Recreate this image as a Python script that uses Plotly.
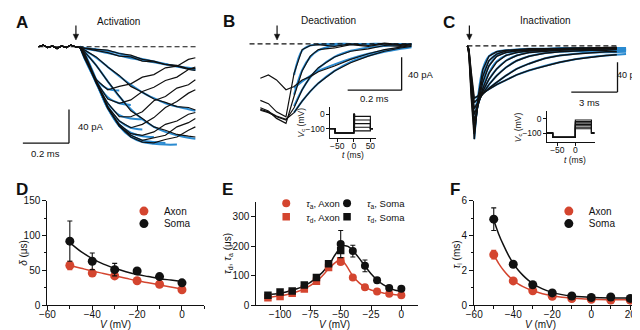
import plotly.graph_objects as go

W, H = 640, 330
FONT = "Liberation Sans, Arial, sans-serif"
BOLD = "Liberation Sans, Arial, sans-serif"
RED = "#d4452f"
BLUE = "#2a8ad0"
BLACK = "#111111"

# ---------------- A: activation (t in ms, I in pA) ----------------
A_T_BASE = [0, 0.02, 0.04, 0.06, 0.08, 0.10, 0.12, 0.14, 0.16, 0.18]
A_I_BASE = [0, 2, -1, 1, -2, 1, -1, 2, 0, -1]
A_T = [0.2, 0.25, 0.3, 0.35, 0.4, 0.45, 0.5, 0.55, 0.6, 0.65, 0.68]
A_S0 = [-1.5, -3, -4, -8, -10, -15, -17, -21, -23, -27, -28]
A_S1 = [-2, -5, -7, -11, -12, -17, -18, -21, -22, -26, -26]
A_S2 = [-4, -12, -24, -34, -47, -54, -62, -66, -71, -72, -75]
A_S3 = [-6, -22, -41, -59, -76, -85, -95, -99, -104, -106, -107]
A_F1 = [-14, -39, -51, -47, -44, -36, -33, -25, -23, -15, -13]
A_F2 = [-14, -41, -62, -67, -63, -53, -48, -40, -36, -27, -24]
A_F3 = [-12, -43, -67, -83, -83, -77, -64, -59, -49, -45, -39]
A_F4 = [-11, -43, -71, -88, -96, -92, -84, -72, -65, -55, -51]
A_F5 = [-10, -42, -73, -92, -103, -105, -101, -92, -88, -80, -78]
A_F6 = [-9, -41, -73, -94, -105, -111, -108, -105, -95, -90, -85]
A_F7 = [-8, -39, -71, -94, -107, -113, -114, -110, -107, -99, -95]
A_FIT_T = [0.18, 0.2, 0.25, 0.3, 0.35, 0.4, 0.45, 0.5, 0.55, 0.6, 0.65, 0.68]
A_FIT_S0 = [0, -1.5, -3, -5, -8, -11.5, -14.5, -17.5, -20.5, -23.5, -26, -27.5]
A_FIT_S1 = [0, -2, -4.5, -7.5, -10.5, -13.5, -16, -18.5, -21, -23, -25, -26]
A_FIT_S2 = [0, -4, -13, -24, -35, -45, -54, -61, -67, -71, -74, -76]
A_FIT_S3 = [0, -6, -22, -41, -59, -74, -86, -95, -101, -105, -108, -109]
A_FIT_F1 = [0, -14, -39, -50, -52]
A_FIT_F2 = [0, -14, -41, -60, -67, -69]
A_FIT_F3 = [0, -12, -43, -67, -81, -85, -86]
A_FIT_F4 = [0, -11, -43, -71, -88, -96, -98]
A_FIT_F5 = [0, -10, -42, -73, -92, -102, -106, -107]
A_FIT_F6 = [0, -9, -41, -73, -94, -105, -111, -113, -114]
A_FIT_F7 = [0, -8, -39, -71, -94, -107, -113, -115, -116, -116]
A_STIM_T = 0.162

# ---------------- B: deactivation ----------------
B_T = [0.04, 0.07, 0.10, 0.135, 0.165, 0.195, 0.225, 0.255, 0.315, 0.375, 0.44, 0.5, 0.56, 0.6]
B_1 = [-42, -38, -44, -56, -52, -44, -40, -34, -27, -19, -12, -7, -4, -2]
B_2 = [-69, -73, -83, -89, -36, -7, -2, -1, -3, 0, -2, 1, -1, 0]
B_3 = [-78, -82, -91, -97, -64, -33, -15, -7, -5, -1, -3, 0, -2, 0]
B_4 = [-81, -84, -89, -93, -78, -56, -40, -29, -16, -9, -6, -2, -3, -1]
B_5 = [-80, -83, -88, -92, -84, -70, -58, -48, -33, -23, -15, -9, -5, -3]
B_FIT_T = [0.165, 0.195, 0.225, 0.255, 0.315, 0.375, 0.44, 0.5, 0.56, 0.6]
B_FIT_1 = [-54, -46, -39, -33, -25, -18, -12, -8, -5, -3]
B_FIT_2 = [-38, -8, -2, -0.5, 0, 0, 0, 0, 0, 0]
B_FIT_3 = [-62, -32, -16, -8, -2, -0.5, 0, 0, 0, 0]
B_FIT_4 = [-76, -56, -41, -30, -16, -8.5, -4.5, -2.5, -1.3, -0.8]
B_FIT_5 = [-84, -70, -58, -48, -33, -22, -14.5, -9.5, -6, -4]
B_STIM_T = 0.102
B_PROTO_T = [-77, -57, -57, 0, 0, 2, 2, 50, 50, 58]
B_PROTO_LEVELS = [-15, -40, -65, -90, -115]

# ---------------- C: inactivation ----------------
C_T = [0, 0.1, 0.25, 0.45, 0.7, 1.0, 1.4, 1.9, 2.5, 3.2, 4.0, 5.0, 6.0, 7.0, 8.0, 9.0, 9.7]
C_1 = [0, -12, -70, -125, -68, -32, -14, -8, -6, -5, -4, -4, -3, -3, -3, -2, -2]
C_2 = [0, -10, -63, -118, -74, -41, -20, -11, -7, -6, -5, -4, -4, -3, -3, -3, -3]
C_3 = [0, -9, -58, -110, -77, -49, -27, -14, -9, -7, -6, -5, -4, -4, -4, -3, -3]
C_4 = [0, -8, -53, -101, -79, -57, -37, -22, -13, -9, -7, -6, -5, -5, -4, -4, -4]
C_5 = [0, -7, -48, -92, -78, -61, -45, -31, -20, -13, -9, -7, -6, -5, -5, -5, -4]
C_6 = [0, -6, -43, -84, -75, -64, -52, -40, -29, -20, -14, -10, -8, -7, -6, -6, -5]
C_7 = [0, -5, -39, -76, -71, -65, -57, -49, -40, -31, -24, -17, -13, -11, -9, -8, -8]
C_8 = [0, -4, -35, -70, -67, -63, -58, -52, -46, -39, -33, -27, -22, -18, -15, -13, -12]
C_FIT_T = [0.45, 0.7, 1.0, 1.4, 1.9, 2.5, 3.2, 4.0, 5.0, 6.0, 7.0, 8.0, 9.0, 10.3]
C_FIT_1 = [-125, -67, -31, -14, -8, -6, -5, -4, -4, -3, -3, -3, -3, -3]
C_FIT_2 = [-118, -73, -40, -20, -11, -7, -5.5, -5, -4.5, -4, -4, -4, -4, -4]
C_FIT_3 = [-110, -76, -48, -27, -14, -9, -7, -6, -5, -5, -5, -5, -5, -5]
C_FIT_4 = [-101, -78, -56, -36, -21, -13, -9, -7, -6, -5.5, -5.5, -5.5, -5.5, -5.5]
C_FIT_5 = [-92, -77, -61, -45, -31, -20, -13, -9, -7, -6, -6, -6, -6, -6]
C_FIT_6 = [-84, -74, -63, -52, -40, -29, -20, -14, -10, -8, -7, -6.5, -6.5, -6.5]
C_FIT_7 = [-76, -70, -64, -57, -49, -40, -31, -24, -17, -13, -10.5, -9, -8.5, -8]
C_FIT_8 = [-70, -67, -63, -58, -52, -46, -39, -33, -27, -22, -18, -15, -13, -11]
C_STIM_T = 0.13
C_PROTO_T = [-79, -63, -63, 0, 0, 45, 45, 53]
C_PROTO_LEVELS = [-10, -20, -30, -40, -50, -60, -70]

# ---------------- D: delay ----------------
D_V = [-50, -40, -30, -20, -10, 0]
D_SOMA = [92, 63, 51, 49, 41, 32]
D_SOMA_ERR = [29, 12, 9, 3, 3, 3]
D_AXON = [57, 46, 42, 35, 30, 22]
D_AXON_ERR = [6, 3, 3, 2, 2, 2]
D_FIT_V = [-50, -45, -40, -35, -30, -25, -20, -15, -10, -5, 0]
D_SOMA_FIT = [90, 77, 67, 59, 53, 48, 44, 41, 38, 36, 34]
D_AXON_FIT = [57, 53, 49, 45.5, 42, 38.5, 35, 32, 29, 26, 23]

# ---------------- E: activation / deactivation tau ----------------
E_VD = [-110, -100, -90, -80, -70, -60, -50]
E_SOMA_TD = [33, 44, 48, 68, 93, 140, 185]
E_AXON_TD = [25, 29, 40, 54, 81, 127, 150]
E_VA = [-50, -40, -30, -20, -10, 0]
E_SOMA_TA = [207, 183, 133, 84, 58, 55]
E_SOMA_TA_ERR = [46, 20, 20, 8, 6, 6]
E_AXON_TA = [146, 93, 60, 46, 38, 33]
E_AXON_TA_ERR = [8, 6, 4, 3, 3, 3]
E_SOMA_FIT_V = [-110, -100, -90, -80, -70, -60, -55, -50, -47, -44, -40, -35, -30, -25, -20, -15, -10, -5, 0]
E_SOMA_FIT = [35, 40, 50, 65, 92, 135, 168, 195, 201, 199, 185, 160, 132, 106, 85, 69, 58, 50, 46]
E_AXON_FIT_V = [-110, -100, -90, -80, -70, -60, -55, -52, -50, -47, -44, -40, -35, -30, -25, -20, -15, -10, -5, 0]
E_AXON_FIT = [27, 31, 40, 55, 80, 122, 142, 150, 151, 143, 125, 99, 76, 61, 51, 45, 41, 37, 35, 33]

# ---------------- F: inactivation tau ----------------
F_V = [-50, -40, -30, -20, -10, 0, 10, 20]
F_SOMA = [4.95, 2.35, 1.17, 0.70, 0.52, 0.43, 0.46, 0.38]
F_SOMA_ERR = [0.65, 0.15, 0.08, 0.05, 0.05, 0.04, 0.04, 0.04]
F_AXON = [2.9, 1.39, 0.82, 0.5, 0.37, 0.33, 0.29, 0.28]
F_AXON_ERR = [0.25, 0.1, 0.06, 0.04, 0.03, 0.03, 0.03, 0.03]
F_FIT_V = [-50, -47.5, -45, -42.5, -40, -37.5, -35, -32.5, -30, -25, -20, -15, -10, -5, 0, 10, 20]
F_SOMA_FIT = [4.9, 4.1, 3.45, 2.88, 2.4, 2.02, 1.71, 1.45, 1.24, 0.93, 0.73, 0.6, 0.52, 0.47, 0.44, 0.41, 0.4]
F_AXON_FIT = [2.9, 2.4, 2.0, 1.68, 1.42, 1.22, 1.06, 0.93, 0.82, 0.65, 0.53, 0.45, 0.4, 0.36, 0.34, 0.31, 0.3]

# ======================================================================
layout = dict(width=W, height=H, margin=dict(l=0, r=0, t=0, b=0),
              paper_bgcolor="white", plot_bgcolor="white",
              showlegend=True, hovermode=False,
              font=dict(family=FONT, size=10, color=BLACK))


def xr(p0, p1, pref, vref, s):
    return [vref + (p0 - pref) / s, vref + (p1 - pref) / s]


def yr(top, bot, pref, vref, s):
    return [vref + (pref - bot) / s, vref + (pref - top) / s]


def axis_pair(n, xpx, ypx, xrange, yrange, show, xkw=None, ykw=None, fsize=10, tlen=4, xstand=-4):
    sx = "" if n == 1 else str(n)
    base = dict(showgrid=False, zeroline=False, fixedrange=True)
    if not show:
        base["visible"] = False
    else:
        base.update(showline=True, linecolor=BLACK, linewidth=1.2, ticks="outside",
                    ticklen=tlen, tickwidth=1.1, tickcolor=BLACK,
                    tickfont=dict(family=FONT, size=fsize, color=BLACK))
    xd = dict(base, domain=[xpx[0] / W, xpx[1] / W], range=xrange, anchor="y" + sx)
    yd = dict(base, domain=[1 - ypx[1] / H, 1 - ypx[0] / H], range=yrange, anchor="x" + sx)
    if show:
        xd["ticklabelstandoff"] = xstand
    xd.update(xkw or {})
    yd.update(ykw or {})
    layout["xaxis" + sx] = xd
    layout["yaxis" + sx] = yd


# pixel calibrations of each trace panel
A_CAL = dict(xp=23, xs=235, yp=34, ys=0.875)
B_CAL = dict(xp=238, xs=275, yp=31, ys=0.85)
C_CAL = dict(xp=460, xs=15.7, yp=33, ys=0.775)

axis_pair(1, (0, 190), (14, 150), xr(0, 190, A_CAL["xp"], 0, A_CAL["xs"]),
          yr(14, 150, A_CAL["yp"], 0, A_CAL["ys"]), False)
axis_pair(2, (228, 420), (10, 122), xr(228, 420, B_CAL["xp"], 0, B_CAL["xs"]),
          yr(10, 122, B_CAL["yp"], 0, B_CAL["ys"]), False)
axis_pair(3, (440, 640), (10, 140), xr(440, 640, C_CAL["xp"], 0, C_CAL["xs"]),
          yr(10, 140, C_CAL["yp"], 0, C_CAL["ys"]), False)
# insets
MINOR = dict(ticks="outside", ticklen=2.5, tickcolor=BLACK, tickwidth=1)
axis_pair(4, (320, 367), (97, 129), xr(320, 367, 344.3, 0, 0.337), yr(97, 129, 104, 0, 0.15), True,
          xkw=dict(tickvals=[-50, 0, 50]), ykw=dict(tickvals=[-100, 0]), fsize=8.5, tlen=2.5, xstand=-3)
axis_pair(5, (541, 590), (101, 133), xr(541, 590, 570, 0, 0.366), yr(101, 133, 108.5, 0, 0.15), True,
          xkw=dict(tickvals=[-50, 0]), ykw=dict(tickvals=[-100, 0]), fsize=8.5, tlen=2.5, xstand=-3)
# D, E, F
axis_pair(6, (32, 192), (194, 302), [-60, 10], [0, 150], True,
          xkw=dict(tick0=-60, dtick=20, minor=dict(MINOR, dtick=10)),
          ykw=dict(tick0=0, dtick=50, minor=dict(MINOR, dtick=25)))
axis_pair(7, (245, 410), (195, 302), xr(245, 410, 392.7, 0, 1.236), [0, 350], True,
          xkw=dict(tickvals=[-100, -75, -50, -25, 0]), ykw=dict(tickvals=[0, 100, 200, 300]))
axis_pair(8, (467, 628), (194, 302), [-60, 21], [0, 6], True,
          xkw=dict(tick0=-60, dtick=20, minor=dict(MINOR, dtick=10)),
          ykw=dict(tick0=0, dtick=2, minor=dict(MINOR, dtick=1)))

fig = go.Figure()


def line(x, y, n, color, width, shape="linear"):
    sx = "" if n == 1 else str(n)
    fig.add_trace(go.Scatter(x=x, y=y, mode="lines", xaxis="x" + sx, yaxis="y" + sx,
                             line=dict(color=color, width=width, shape=shape),
                             showlegend=False, hoverinfo="skip"))


# ---- A ----
for fit in [A_FIT_S0, A_FIT_S1, A_FIT_S2, A_FIT_S3, A_FIT_F1, A_FIT_F2, A_FIT_F3,
            A_FIT_F4, A_FIT_F5, A_FIT_F6, A_FIT_F7]:
    line(A_FIT_T[:len(fit)], fit, 1, BLUE, 2.0, "spline")
for tr in [A_S0, A_S1, A_S2, A_S3, A_F1, A_F2, A_F3, A_F4, A_F5, A_F6, A_F7]:
    line(A_T_BASE + A_T, A_I_BASE + tr, 1, BLACK, 1.2)

# ---- B ----
for fit in [B_FIT_1, B_FIT_2, B_FIT_3, B_FIT_4, B_FIT_5]:
    line(B_FIT_T, fit, 2, BLUE, 2.0, "spline")
for tr in [B_1, B_2, B_3, B_4, B_5]:
    line(B_T, tr, 2, BLACK, 1.2)
for lv in B_PROTO_LEVELS:
    line(B_PROTO_T, [-100, -100, -130, -130, 0, 0, lv, lv, -100, -100], 4, BLACK, 1.1)

# ---- C ----
for fit in [C_FIT_1, C_FIT_2, C_FIT_3, C_FIT_4, C_FIT_5, C_FIT_6, C_FIT_7, C_FIT_8]:
    line(C_FIT_T, fit, 3, BLUE, 2.0, "spline")
for tr in [C_1, C_2, C_3, C_4, C_5, C_6, C_7, C_8]:
    line(C_T, tr, 3, BLACK, 1.4)
for lv in C_PROTO_LEVELS:
    line(C_PROTO_T, [-100, -100, -130, -130, lv, lv, -100, -100], 5, BLACK, 1.1)


# ---- D/E/F ----
def pts(x, y, n, color, name, legend, symbol="circle", size=9, err=None):
    sx = "" if n == 1 else str(n)
    kw = {}
    if err is not None:
        kw["error_y"] = dict(type="data", array=err, visible=True, color=color,
                             thickness=1.1, width=2.5)
    fig.add_trace(go.Scatter(x=x, y=y, mode="markers", xaxis="x" + sx, yaxis="y" + sx,
                             marker=dict(color=color, size=size, symbol=symbol, line=dict(width=0)),
                             name=name, legend=legend, showlegend=True, hoverinfo="skip", **kw))


line(D_FIT_V, D_AXON_FIT, 6, RED, 1.5, "spline")
line(D_FIT_V, D_SOMA_FIT, 6, BLACK, 1.5, "spline")
pts(D_V, D_AXON, 6, RED, "Axon", "legend", err=D_AXON_ERR)
pts(D_V, D_SOMA, 6, BLACK, "Soma", "legend2", err=D_SOMA_ERR)

line(E_AXON_FIT_V, E_AXON_FIT, 7, RED, 1.5, "spline")
line(E_SOMA_FIT_V, E_SOMA_FIT, 7, BLACK, 1.5, "spline")
pts(E_VD, E_AXON_TD, 7, RED, "<i>τ</i><sub>d</sub>, Axon", "legend5", symbol="square", size=7.5)
pts(E_VD, E_SOMA_TD, 7, BLACK, "<i>τ</i><sub>d</sub>, Soma", "legend6", symbol="square", size=7.5)
pts(E_VA, E_AXON_TA, 7, RED, "<i>τ</i><sub>a</sub>, Axon", "legend3", size=8, err=E_AXON_TA_ERR)
pts(E_VA, E_SOMA_TA, 7, BLACK, "<i>τ</i><sub>a</sub>, Soma", "legend4", size=8, err=E_SOMA_TA_ERR)

line(F_FIT_V, F_AXON_FIT, 8, RED, 1.5, "spline")
line(F_FIT_V, F_SOMA_FIT, 8, BLACK, 1.5, "spline")
pts(F_V, F_AXON, 8, RED, "Axon", "legend7", err=F_AXON_ERR)
pts(F_V, F_SOMA, 8, BLACK, "Soma", "legend8", err=F_SOMA_ERR)

LEG_DX, LEG_DY = 31, 5.5   # offset of a legend symbol from the legend box anchor


def leg(mx, my, size=10):
    return dict(x=(mx - LEG_DX) / W, y=1 - (my - LEG_DY) / H, xanchor="left", yanchor="middle",
                bgcolor="rgba(0,0,0,0)", borderwidth=0, orientation="v",
                font=dict(family=FONT, size=size, color=BLACK))


layout["legend"] = leg(141, 210)
layout["legend2"] = leg(141, 223)
layout["legend3"] = leg(286, 202, 9.5)
layout["legend4"] = leg(348, 202, 9.5)
layout["legend5"] = leg(286, 216, 9.5)
layout["legend6"] = leg(348, 216, 9.5)
layout["legend7"] = leg(574, 210)
layout["legend8"] = leg(574, 223)

# ---------- annotations ----------
ann = []


def txt(text, px, py, size=10, xanchor="center", angle=0, family=FONT):
    ann.append(dict(text=text, x=px / W, y=1 - py / H, xref="paper", yref="paper",
                    showarrow=False, xanchor=xanchor, yanchor="middle", textangle=angle,
                    font=dict(family=family, size=size, color=BLACK)))


for letter, px, py in [("A", 6, 9), ("B", 217, 8), ("C", 441, 9), ("D", 6, 182), ("E", 216, 182), ("F", 447, 182)]:
    txt("<b>%s</b>" % letter, px, py, size=17, family=BOLD)

txt("Activation", 104, 8, size=10)
txt("Deactivation", 318, 7, size=10)
txt("Inactivation", 540, 7, size=10)

txt("40 pA", 61, 117, size=9.5, xanchor="left")
txt("0.2 ms", 30, 145, size=9.5)
txt("40 pA", 397, 63, size=9.5, xanchor="left")
txt("0.2 ms", 365, 88, size=9.5)
txt("40 pA", 639, 63, size=9, xanchor="right")
txt("3 ms", 584, 92, size=9.5)

txt("<i>V</i><sub>c</sub> (mV)", 291, 113, size=8.5, angle=-90)
txt("<i>t</i> (ms)", 343, 146, size=8.5)
txt("<i>V</i><sub>c</sub> (mV)", 512, 117, size=8.5, angle=-90)
txt("<i>t</i> (ms)", 570, 151, size=8.5)

txt("<i>δ</i> (μs)", 8, 248, size=10, angle=-90)
txt("<i>τ</i><sub>d</sub>, <i>τ</i><sub>a</sub> (μs)", 216, 248, size=10, angle=-90)
txt("<i>τ</i><sub>i</sub> (ms)", 449, 250, size=10, angle=-90)
txt("<i>V</i> (mV)", 101, 322.5, size=10)
txt("<i>V</i> (mV)", 325, 322.5, size=10)
txt("<i>V</i> (mV)", 535, 322.5, size=10)
layout["annotations"] = ann

# ---------- shapes: dashed baselines, scale bars, stimulus arrows ----------
shapes = []
DASH = "5px,3px"
for xref, yref, t1 in [("x", "y", 0.69), ("x2", "y2", 0.59), ("x3", "y3", 9.7)]:
    shapes.append(dict(type="line", xref=xref, yref=yref, x0=0, x1=t1, y0=0, y1=0,
                       line=dict(color=BLACK, width=1.2, dash=DASH)))


def px_to_t(px, cal):
    return (px - cal["xp"]) / cal["xs"]


def py_to_i(py, cal):
    return (cal["yp"] - py) / cal["ys"]


for xref, yref, cal, cpx, cpy, dt, di in [("x", "y", A_CAL, 54, 134, 0.2, 40),
                                           ("x2", "y2", B_CAL, 393, 79, 0.2, 40),
                                           ("x3", "y3", C_CAL, 613, 81, 3, 40)]:
    tc, ic = px_to_t(cpx, cal), py_to_i(cpy, cal)
    shapes.append(dict(type="line", xref=xref, yref=yref, x0=tc - dt, x1=tc, y0=ic, y1=ic,
                       line=dict(color=BLACK, width=1.3)))
    shapes.append(dict(type="line", xref=xref, yref=yref, x0=tc, x1=tc, y0=ic, y1=ic + di,
                       line=dict(color=BLACK, width=1.3)))

# stimulus arrows (vertical stem + filled head), x at stimulus time
for xref, cal, t in [("x", A_CAL, A_STIM_T), ("x2", B_CAL, B_STIM_T), ("x3", C_CAL, C_STIM_T)]:
    hw = 2.8 / cal["xs"]
    shapes.append(dict(type="line", xref=xref, yref="paper", x0=t, x1=t,
                       y0=1 - 12 / H, y1=1 - 23 / H, line=dict(color=BLACK, width=1.2)))
    shapes.append(dict(type="path", xref=xref, yref="paper",
                       path="M %f,%f L %f,%f L %f,%f Z" % (t - hw, 1 - 21 / H, t + hw, 1 - 21 / H, t, 1 - 27 / H),
                       fillcolor=BLACK, line=dict(color=BLACK, width=0.5)))
layout["shapes"] = shapes

fig.update_layout(**layout)
fig.write_html("out.html")
